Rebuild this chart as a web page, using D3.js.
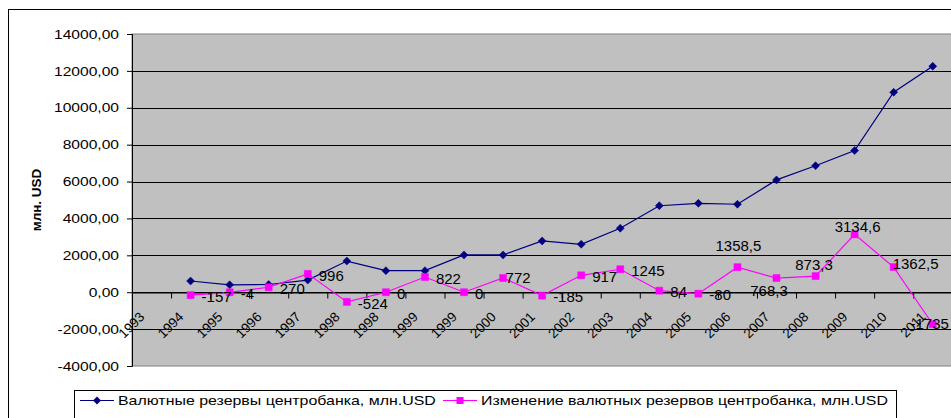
<!DOCTYPE html>
<html>
<head>
<meta charset="utf-8">
<script src="https://cdn.jsdelivr.net/npm/d3@7/dist/d3.min.js"></script>
<style>
  html, body { margin: 0; padding: 0; background: #fff; }
  svg { display: block; font-family: "Liberation Sans", Arial, sans-serif; }
</style>
</head>
<body>
<svg id="chart" width="951" height="418"></svg>
<script>
// ---- data ----
const categories = ["1993","1994","1995","1996","1997","1998","1998","1999","1999","2000","2001","2002","2003","2004","2005","2006","2007","2008","2009","2010","2011"];
const reserves = [null, 607, 400, 420, 660, 1690, 1170, 1170, 2020, 2020, 2780, 2600, 3470, 4690, 4820, 4770, 6090, 6860, 7680, 10840, 12250];
const reserveChange = [null, -157, -4, 270, 996, -524, 0, 822, 0, 772, -185, 917, 1245, 84, -80, 1358.5, 768.3, 873.3, 3134.6, 1362.5, -1735];
const yTicks = [-4000, -2000, 0, 2000, 4000, 6000, 8000, 10000, 12000, 14000];
const seriesNames = ["Валютные резервы центробанка, млн.USD", "Изменение валютных резервов центробанка, млн.USD"];
const yTitle = "млн. USD";

// ---- layout ----
const svg = d3.select("#chart");
const plot = { left: 132, top: 34, bottom: 366, step: 39.06 };
plot.right = plot.left + plot.step * categories.length;

const x = d3.scaleBand().domain(d3.range(categories.length)).range([plot.left, plot.right]).paddingInner(0).paddingOuter(0);
const xb = d3.scaleLinear().domain([0, categories.length]).range([plot.left, plot.right]);
const y = d3.scaleLinear().domain([-4000, 14000]).range([plot.bottom, plot.top]);
const cx = i => x(i) + x.bandwidth() / 2;

// outer chart border
svg.append("rect").attr("x", 8.5).attr("y", 9.5).attr("width", 1000).attr("height", 500)
  .attr("fill", "#fff").attr("stroke", "#000").attr("stroke-width", 1);

// plot area
svg.append("rect").attr("x", plot.left).attr("y", plot.top)
  .attr("width", plot.right - plot.left).attr("height", plot.bottom - plot.top)
  .attr("fill", "#c0c0c0").attr("stroke", "#808080").attr("stroke-width", 1);

// gridlines
svg.append("g").selectAll("line").data(yTicks.filter(d => d > -4000 && d < 14000)).join("line")
  .attr("x1", plot.left).attr("x2", plot.right)
  .attr("y1", d => Math.round(y(d)) + 0.5).attr("y2", d => Math.round(y(d)) + 0.5)
  .attr("stroke", "#000").attr("stroke-width", 1);

// y axis
const fmtTick = d => d.toFixed(2).replace(".", ",");
const yAxis = svg.append("g").attr("transform", `translate(${plot.left},0)`)
  .call(d3.axisLeft(y).tickValues(yTicks).tickSize(5).tickPadding(8).tickFormat(fmtTick));
yAxis.select(".domain").attr("stroke", "#000");
yAxis.selectAll(".tick line").attr("stroke", "#000");
yAxis.selectAll(".tick text")
  .attr("font-size", 13).attr("fill", "#000").attr("font-family", "Liberation Sans, Arial, sans-serif")
  .each(function() {
    const t = d3.select(this);
    const xx = +t.attr("x");
    t.attr("x", null).attr("transform", `translate(${xx},0) scale(1.2,1)`);
  });

// x axis at y=0 : boundary ticks
const xAxisG = svg.append("g").attr("transform", `translate(0,${Math.round(y(0)) + 0.5})`);
xAxisG.call(d3.axisBottom(xb).tickValues(d3.range(1, categories.length)).tickSize(6).tickFormat(""));
xAxisG.select(".domain").attr("stroke", "#000");
xAxisG.selectAll(".tick line").attr("stroke", "#000");

// x axis labels at category centers
const xLab = svg.append("g").attr("transform", `translate(0,${Math.round(y(0))})`);
xLab.call(d3.axisBottom(x).tickSize(0).tickFormat(i => categories[i]));
xLab.select(".domain").remove();
xLab.selectAll(".tick text")
  .attr("font-size", 13.5).attr("fill", "#000").attr("font-family", "Liberation Sans, Arial, sans-serif")
  .attr("text-anchor", "end").attr("y", 0).attr("dy", "0.71em")
  .attr("transform", "translate(-13,19) rotate(-45)");

// y title
svg.append("text").attr("transform", `translate(36,${(plot.top + plot.bottom) / 2}) rotate(-90)`)
  .attr("text-anchor", "middle").attr("dy", "0.35em")
  .attr("font-size", 13.5).attr("font-weight", "bold").text(yTitle);

// series
const blue = "#000080", pink = "#ff00ff";
const diamond = "M0,-4L4,0L0,4L-4,0Z";
const square = "M-3.5,-3.5H3.5V3.5H-3.5Z";

function drawSeries(values, color, marker) {
  const pts = values.map((v, i) => ({ i, v })).filter(d => d.v !== null);
  const line = d3.line().x(d => cx(d.i)).y(d => y(d.v));
  svg.append("path").datum(pts).attr("d", line).attr("fill", "none")
    .attr("stroke", color).attr("stroke-width", 1.2);
  svg.append("g").selectAll("path").data(pts).join("path")
    .attr("d", marker).attr("transform", d => `translate(${cx(d.i)},${y(d.v)})`)
    .attr("fill", color).attr("stroke", color).attr("stroke-width", 0.5);
  return pts;
}
drawSeries(reserves, blue, diamond);
const chPts = drawSeries(reserveChange, pink, square);

// data labels for change series
const fmtLab = v => String(v).replace(".", ",");
const nudge = {
  9:  { anchor: "start", dx: 2.5, dy: 0 },
  15: { anchor: "middle", dx: 1, dy: -21 },
  16: { anchor: "middle", dx: -7.5, dy: 13 },
  17: { anchor: "middle", dx: -1.5, dy: -11 },
  18: { anchor: "middle", dx: 3, dy: -7.5 },
  19: { anchor: "start", dx: -1, dy: -3.6 },
  20: { anchor: "middle", dx: -3, dy: 0 }
};
svg.append("g").selectAll("text").data(chPts).join("text")
  .attr("x", d => cx(d.i) + (nudge[d.i] ? nudge[d.i].dx : 11))
  .attr("y", d => y(d.v) + (nudge[d.i] ? nudge[d.i].dy : 1.5))
  .attr("dy", "0.35em")
  .attr("text-anchor", d => nudge[d.i] ? nudge[d.i].anchor : "start")
  .attr("font-size", 15).attr("fill", "#000")
  .text(d => fmtLab(d.v));

// legend
const legBox = { x: 74.5, y: 390.5, w: 822 };
const leg = svg.append("g");
leg.append("rect").attr("x", legBox.x).attr("y", legBox.y).attr("width", legBox.w).attr("height", 60)
  .attr("fill", "#fff").attr("stroke", "#000").attr("stroke-width", 1);
const legItems = [
  { name: seriesNames[0], color: blue, marker: diamond, x0: 80 },
  { name: seriesNames[1], color: pink, marker: square, x0: 443 }
];
legItems.forEach((it, k) => {
  const g = leg.append("g").attr("transform", `translate(${it.x0},400.5)`);
  g.append("line").attr("x1", 0).attr("x2", 34).attr("stroke", it.color).attr("stroke-width", 1.2);
  g.append("path").attr("d", it.marker).attr("transform", "translate(17,0)").attr("fill", it.color);
  const t = g.append("text").attr("dy", "0.35em").attr("font-size", 13).attr("fill", "#000").text(it.name);
  // stretch text to fill the space up to the next entry / box edge (as in the original legend)
  const end = k + 1 < legItems.length ? legItems[k + 1].x0 - 7 : legBox.x + legBox.w - 8;
  const avail = end - (it.x0 + 38);
  const w = t.node().getComputedTextLength();
  const s = w > 0 ? avail / w : 1;
  t.attr("transform", `translate(38,0) scale(${s},1)`);
});
</script>
</body>
</html>
